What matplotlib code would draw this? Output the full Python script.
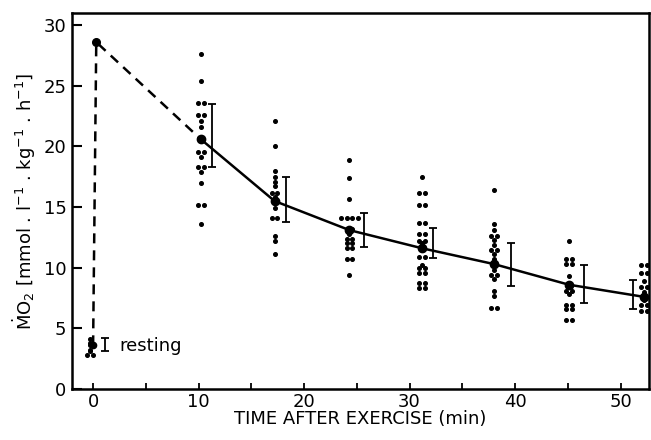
import matplotlib
matplotlib.use("Agg")
import matplotlib.pyplot as plt
import numpy as np

# ---- data ----
times = [10.2, 17.2, 24.3, 31.2, 38.0, 45.1, 52.2]
means = [20.6, 15.5, 13.1, 11.6, 10.3, 8.6, 7.6]
err_times = [11.3, 18.3, 25.7, 32.2, 39.6, 46.5, 51.2]
err_low = [18.3, 13.8, 11.7, 10.8, 8.5, 7.1, 6.6]
err_high = [23.5, 17.5, 14.5, 13.3, 12.0, 10.2, 9.0]

vals_10 = [27.6, 25.4, 23.6, 23.6, 22.6, 22.6, 22.1, 21.6, 19.5, 19.5, 19.1,
           18.3, 18.3, 17.9, 17.0, 15.2, 15.2, 13.6]
vals_17 = [22.1, 20.0, 18.0, 17.5, 17.1, 16.7, 16.2, 16.2, 15.8, 15.5, 14.9,
           14.1, 14.1, 12.6, 12.2, 11.1]
vals_24 = [18.9, 17.4, 15.7, 14.1, 14.1, 14.1, 14.1, 13.2, 13.2, 12.8, 12.4,
           12.4, 12.0, 12.0, 11.6, 11.6, 10.7, 10.7, 9.4]
vals_31 = [17.5, 16.2, 16.2, 15.2, 15.2, 13.7, 13.7, 12.8, 12.8, 12.2, 12.2,
           12.0, 11.5, 10.9, 10.9, 10.2, 10.0, 10.0, 9.6, 9.6, 8.7, 8.7, 8.3, 8.3]
vals_38 = [16.4, 13.6, 13.1, 12.6, 12.6, 12.3, 11.9, 11.5, 11.5, 11.1, 10.7,
           10.2, 9.8, 9.4, 9.4, 9.1, 8.1, 7.7, 6.7, 6.7]
vals_45 = [12.2, 10.7, 10.7, 10.3, 10.3, 9.3, 8.7, 8.1, 8.1, 7.8, 6.9, 6.9,
           6.6, 6.6, 5.7, 5.7]
vals_52 = [10.2, 10.2, 9.6, 9.6, 8.9, 8.4, 8.4, 8.0, 7.3, 6.9, 6.9, 6.4, 6.4]
all_vals = [vals_10, vals_17, vals_24, vals_31, vals_38, vals_45, vals_52]

rest_time = -0.3
rest_vals = [4.1, 3.8, 3.6, 3.2, 3.1, 2.8, 2.8]
rest_mean_time = 0.0
rest_mean = 3.6
rest_err_time = 1.1
rest_err_low, rest_err_high = 3.1, 4.2

peak_time = 0.3
peak_mean = 28.6

x_ticks = [0, 5, 10, 15, 20, 25, 30, 35, 40, 45, 50]
x_labels = ["0", "", "10", "", "20", "", "30", "", "40", "", "50"]
y_ticks = [0, 5, 10, 15, 20, 25, 30]

# ---- drawing ----
plt.rcParams['font.family'] = ['DejaVu Sans']
fig = plt.figure(figsize=(6.51, 4.40), dpi=100)
ax = fig.add_axes([72/651, 1-389/440, (649-72)/651, (389-13)/440])


def spread(t, vals, step=0.55):
    xs = []
    vals = list(vals)
    counts = {}
    for v in vals:
        counts[v] = counts.get(v, 0) + 1
    seen = {}
    for v in vals:
        n = counts[v]
        k = seen.get(v, 0)
        seen[v] = k + 1
        xs.append(t + (k - (n - 1) / 2) * step)
    return xs, vals


for t, vals in zip(times, all_vals):
    xs, ys = spread(t, vals)
    ax.plot(xs, ys, 'o', color='black', markersize=2.6, linestyle='none')

xs, ys = spread(rest_time, rest_vals, step=0.5)
ax.plot(xs, ys, 'o', color='black', markersize=2.6, linestyle='none')

# dashed lines: resting -> peak -> first mean
ax.plot([rest_mean_time, peak_time, times[0]], [rest_mean, peak_mean, means[0]],
        color='black', lw=1.8, dashes=(4, 2.8))
# solid line through means
ax.plot(times, means, color='black', lw=1.8)
ax.plot(times, means, 'o', color='black', markersize=6)
ax.plot([peak_time], [peak_mean], 'o', color='black', markersize=5.5)
ax.plot([rest_mean_time], [rest_mean], 'o', color='black', markersize=4.5)

# error bars
for et, lo, hi in zip(err_times, err_low, err_high):
    ax.errorbar([et], [(lo + hi) / 2], yerr=[[(hi - lo) / 2], [(hi - lo) / 2]],
                fmt='none', ecolor='black', elinewidth=1.3, capsize=3, capthick=1.3)
ax.errorbar([rest_err_time], [(rest_err_low + rest_err_high) / 2],
            yerr=[[(rest_err_high - rest_err_low) / 2], [(rest_err_high - rest_err_low) / 2]],
            fmt='none', ecolor='black', elinewidth=1.3, capsize=3, capthick=1.3)

ax.text(2.5, 3.55, "resting", fontsize=13, va='center', ha='left')

ax.set_xlim(-2.0, 52.7)
ax.set_ylim(0, 31.0)
ax.set_xticks(x_ticks)
ax.set_xticklabels(x_labels)
ax.set_yticks(y_ticks)
ax.tick_params(axis='y', direction='in', length=7, width=1.5, labelsize=13, pad=4)
ax.tick_params(axis='x', direction='in', length=4, width=1.3, labelsize=13, pad=3)
for s in ax.spines.values():
    s.set_linewidth(1.8)

ax.set_xlabel("TIME AFTER EXERCISE (min)", fontsize=13, labelpad=-1)
ax.set_ylabel(r"$\dot{\mathrm{M}}$O$_2$ [mmol . l$^{-1}$ . kg$^{-1}$ . h$^{-1}$]",
              fontsize=13, labelpad=4)

fig.savefig("out.png", dpi=100)
